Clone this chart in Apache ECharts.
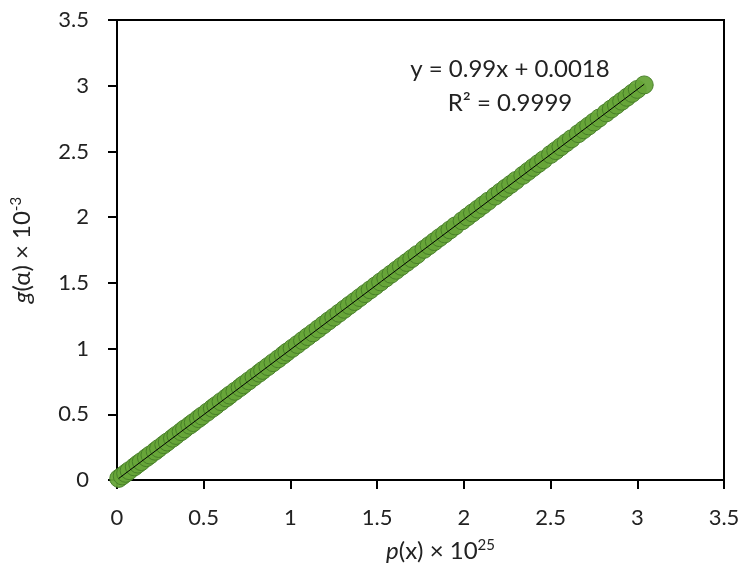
<!DOCTYPE html>
<html>
<head>
<meta charset="utf-8">
<script src="https://cdn.jsdelivr.net/npm/echarts@6/dist/echarts.min.js"></script>
<style>
  html, body { margin: 0; padding: 0; background: #fff; }
  #chart { width: 747px; height: 579px; }
</style>
</head>
<body>
<div id="chart"></div>
<script>
// p(x) x 10^25 values
const pX = [0.01,0.03,0.05,0.07,0.10,0.12,0.14,0.17,0.19,0.22,0.24,0.27,0.29,0.32,0.34,0.37,0.39,0.42,0.44,0.47,
  0.49,0.52,0.55,0.57,0.60,0.63,0.65,0.68,0.71,0.73,0.76,0.79,0.82,0.84,0.87,0.90,0.93,0.96,0.98,1.01,
  1.04,1.07,1.10,1.13,1.16,1.19,1.22,1.25,1.28,1.31,1.34,1.37,1.40,1.43,1.46,1.49,1.52,1.55,1.58,1.61,
  1.64,1.67,1.70,1.73,1.77,1.80,1.83,1.86,1.89,1.92,1.95,1.99,2.02,2.05,2.08,2.11,2.14,2.18,2.21,2.24,
  2.27,2.30,2.34,2.37,2.40,2.43,2.46,2.50,2.53,2.56,2.59,2.62,2.66,2.69,2.72,2.75,2.78,2.82,2.85,2.88,
  2.91,2.94,2.97,3.00,3.04];
// g(alpha) x 10^-3 values
const gAlpha = [0.012,0.031,0.051,0.071,0.100,0.121,0.140,0.170,0.190,0.219,0.240,0.269,0.289,0.318,0.339,0.368,0.389,0.417,0.437,0.467,
  0.487,0.516,0.546,0.566,0.596,0.625,0.646,0.675,0.704,0.725,0.754,0.784,0.813,0.834,0.863,0.893,0.922,0.952,0.973,1.002,
  1.031,1.061,1.091,1.120,1.150,1.180,1.210,1.239,1.269,1.299,1.329,1.358,1.388,1.418,1.447,1.477,1.507,1.537,1.566,1.596,
  1.626,1.655,1.685,1.715,1.755,1.784,1.814,1.844,1.873,1.903,1.933,1.972,2.002,2.032,2.061,2.091,2.121,2.160,2.190,2.220,
  2.249,2.279,2.318,2.348,2.378,2.408,2.437,2.477,2.506,2.536,2.566,2.596,2.635,2.665,2.694,2.724,2.754,2.793,2.823,2.853,
  2.882,2.912,2.942,2.972,3.006];

// linear trendline shown in the chart
const trendSlope = 0.99;
const trendIntercept = 0.0018;
const trendText = ['y = 0.99x + 0.0018', 'R² = 0.9999'];

const font = 'Lato';
const txt = '#222';
const chart = echarts.init(document.getElementById('chart'));

const points = pX.map((x, i) => [x, gAlpha[i]]);
const xMin = Math.min(...pX), xMax = Math.max(...pX);
const trend = [xMin, xMax].map(x => [x, trendSlope * x + trendIntercept]);

function nameStyle(extra) {
  return Object.assign({
    color: txt, fontFamily: font, fontSize: 24,
    rich: {
      i: { fontStyle: 'italic', fontFamily: font, fontSize: 24, color: txt },
      n: { fontFamily: font, fontSize: 24, color: txt },
      sup: { fontFamily: font, fontSize: 15, color: txt, padding: [0, 0, 11, 0] }
    }
  }, extra);
}

function axis(extra) {
  return Object.assign({
    type: 'value',
    min: 0,
    max: 3.5,
    interval: 0.5,
    axisLine: { show: true, lineStyle: { color: '#000', width: 2 } },
    axisTick: { show: true, inside: false, length: 9, lineStyle: { color: '#000', width: 2 } },
    splitLine: { show: false },
    nameLocation: 'middle'
  }, extra);
}

chart.setOption({
  animation: false,
  grid: { left: 117, right: 23, top: 20, bottom: 99, show: true, borderColor: '#000', borderWidth: 2 },
  xAxis: axis({
    name: '{i|p}{n|(x) × 10}{sup|25}',
    nameGap: 58,
    nameTextStyle: nameStyle({ padding: [0, 0, 0, 40] }),
    axisLabel: { color: txt, fontFamily: font, fontSize: 22, margin: 27 }
  }),
  yAxis: axis({
    name: '{i|g}{n|(α) × 10}{sup|-3}',
    nameGap: 82,
    nameRotate: 90,
    nameTextStyle: nameStyle({}),
    axisLabel: { color: txt, fontFamily: font, fontSize: 22, margin: 28 }
  }),
  graphic: trendText.map((t, i) => ({
    type: 'text',
    x: 510,
    y: 69 + i * 34,
    style: { text: t, fill: txt, font: '24px ' + font, textAlign: 'center', textVerticalAlign: 'middle' }
  })),
  series: [
    {
      type: 'scatter',
      data: points,
      symbol: 'circle',
      symbolSize: 18,
      itemStyle: { color: '#67a539', borderColor: '#467d27', borderWidth: 1, opacity: 0.95 }
    },
    {
      type: 'line',
      data: trend,
      showSymbol: false,
      symbol: 'none',
      lineStyle: { color: '#000', width: 1 },
      z: 3
    }
  ]
});
</script>
</body>
</html>
